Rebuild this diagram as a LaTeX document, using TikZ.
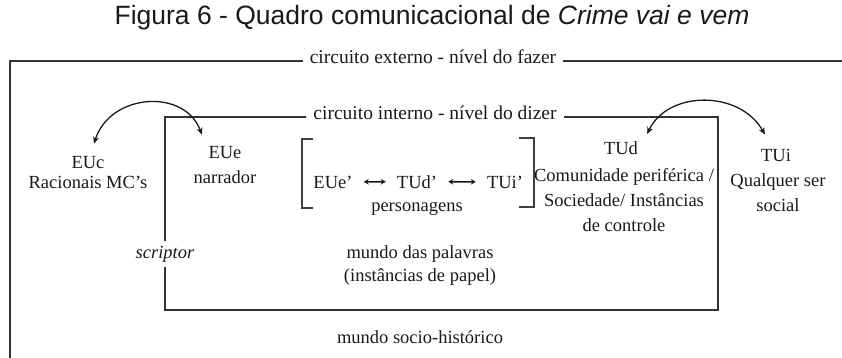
\documentclass[tikz,border=0pt]{standalone}
\usepackage{fontspec}
\setmainfont{Liberation Serif}
\newfontfamily\titlefont{Liberation Sans}
\usetikzlibrary{arrows.meta}
\tikzset{
  txt/.style={font=\fontsize{18.5}{25}\selectfont, inner sep=2pt, anchor=base, text=black!90},
  lbl/.style={font=\fontsize{19.5}{25}\selectfont, inner xsep=7pt, inner ysep=2pt, anchor=mid, text=black!90},
  frame/.style={line width=1.4pt, draw=black!80},
  brk/.style={line width=1.6pt, draw=black!75},
  curvearrow/.style={line width=1.3pt, draw=black!90, {Stealth[length=7pt,width=6pt]}-{Stealth[length=7pt,width=6pt]}},
  duo/.style={line width=1.6pt, draw=black!90, {Stealth[length=5pt,width=5.5pt]}-{Stealth[length=5pt,width=5.5pt]}, shorten <=9pt, shorten >=9pt}
}
\begin{document}
\begin{tikzpicture}[x=1pt,y=-1pt]
\useasboundingbox (0,0) rectangle (842,358);
% title
\node[font=\titlefont\fontsize{26.5}{30}\selectfont, anchor=base, text=black!90] (title) at (432,25) {Figura 6 - Quadro comunicacional de \textit{Crime vai e vem}};
% outer circuit
\node[lbl] (ext) at (433,61) {circuito externo - nível do fazer};
\draw[frame] (10,358) |- (ext.mid west);
\draw[frame] (ext.mid east) -- (842,62 |- ext.mid east);
% inner circuit
\node[lbl] (int) at (435,117) {circuito interno - nível do dizer};
\node[txt, font=\fontsize{18.5}{25}\selectfont\itshape, inner ysep=5pt] (scr) at (165,258) {scriptor};
\draw[frame] (int.mid east) -- (718,117 |- int.mid east) -- (718,310) -- (165,310) -- (scr.south);
\draw[frame] (scr.north) -- (165,117 |- int.mid west) -- (int.mid west);
% emitters / receivers
\node[txt] (euc) at (88,168) {EUc};
\node[txt] (eucd) at (88,188) {Racionais MC’s};
\node[txt] (eue) at (225,158) {EUe};
\node[txt] (eued) at (225,183) {narrador};
\node[txt] (tud) at (621,154) {TUd};
\node[txt] (tudd1) at (624,181) {Comunidade periférica /};
\node[txt] (tudd2) at (624,206) {Sociedade/ Instâncias};
\node[txt] (tudd3) at (624,231) {de controle};
\node[txt] (tui) at (776,161) {TUi};
\node[txt] (tuid1) at (778,186) {Qualquer ser};
\node[txt] (tuid2) at (778,211) {social};
% characters
\node[txt] (eue1) at (333,188) {EUe’};
\node[txt] (tud1) at (417,188) {TUd’};
\node[txt] (tui1) at (505,188) {TUi’};
\node[txt] (pers) at (417,211) {personagens};
\draw[duo] (eue1) -- (tud1);
\draw[duo] (tud1) -- (tui1);
\draw[brk] (313,139) -- (302,139) -- (302,208) -- (313,208);
\draw[brk] (519,138) -- (534,138) -- (534,207) -- (519,207);
% worlds
\node[txt] (mp1) at (420,258) {mundo das palavras};
\node[txt] (mp2) at (420,281) {(instâncias de papel)};
\node[txt] (msh) at (420,343) {mundo socio-histórico};
% curved arrows
\draw[curvearrow] ([xshift=6pt,yshift=10pt]euc.north) .. controls (110,93) and (185,88) .. ([xshift=-4.5pt,yshift=9pt]eue.north west);
\draw[curvearrow] ([xshift=7pt,yshift=5pt]tud.north east) .. controls (668,90) and (740,90) .. ([xshift=6pt,yshift=12pt]tui.north west);
\end{tikzpicture}
\end{document}
